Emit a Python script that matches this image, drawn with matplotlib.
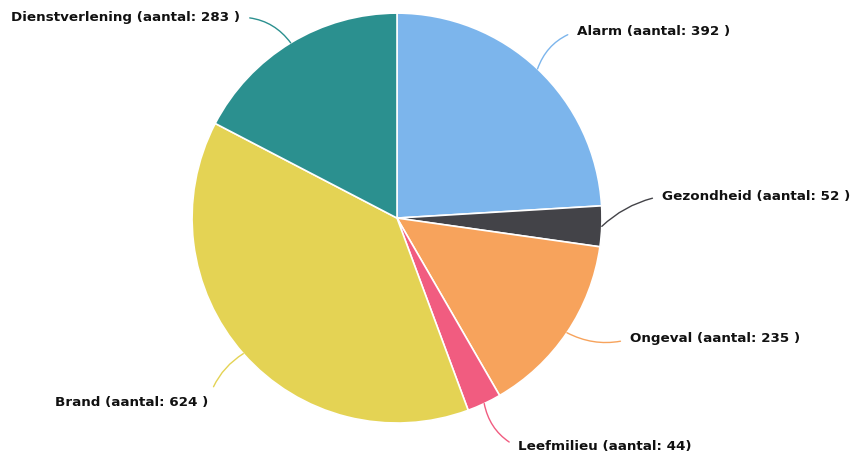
import numpy as np
import matplotlib.pyplot as plt

# Meldingen per categorie
categories = ['Alarm', 'Gezondheid', 'Ongeval', 'Leefmilieu', 'Brand', 'Dienstverlening']
counts = [392, 52, 235, 44, 624, 283]
label_texts = ['Alarm (aantal: 392 )', 'Gezondheid (aantal: 52 )', 'Ongeval (aantal: 235 )',
               'Leefmilieu (aantal: 44)', 'Brand (aantal: 624 )', 'Dienstverlening (aantal: 283 )']
colors = ['#7cb5ec', '#434348', '#f7a35c', '#f15c80', '#e4d354', '#2b908f']

fig = plt.figure(figsize=(8.56, 4.59), dpi=100)
ax = fig.add_axes([0.2243, 0.0784, 0.479, 0.893])

wedges, _ = ax.pie(counts, colors=colors, startangle=90, counterclock=False,
                   radius=1, wedgeprops=dict(edgecolor='white', linewidth=1.2))
ax.set_xlim(-1, 1)
ax.set_ylim(-1, 1)
ax.set_aspect('equal')
ax.axis('off')

# label positions (data coords, radius = 1) and alignment
label_pos = [(0.878, 0.912, 'left', 0.25),
             (1.293, 0.107, 'left', 0.15),
             (1.137, -0.590, 'left', -0.2),
             (0.590, -1.117, 'left', -0.25),
             (-0.922, -0.898, 'right', -0.2),
             (-0.766, 0.980, 'right', -0.25)]

for w, txt, col, (tx, ty, ha, rad) in zip(wedges, label_texts, colors, label_pos):
    ang = np.deg2rad((w.theta1 + w.theta2) / 2)
    x, y = np.cos(ang), np.sin(ang)
    ax.annotate(txt, xy=(x, y), xytext=(tx, ty), ha=ha, va='center',
                fontsize=9.7, fontweight='bold', color='#111111',
                annotation_clip=False,
                arrowprops=dict(arrowstyle='-', color=col, lw=1,
                                shrinkA=5, shrinkB=0,
                                relpos=(0, 0.5) if ha == 'left' else (1, 0.5),
                                connectionstyle=f'arc3,rad={rad}'))

plt.savefig('out.png', dpi=100)
